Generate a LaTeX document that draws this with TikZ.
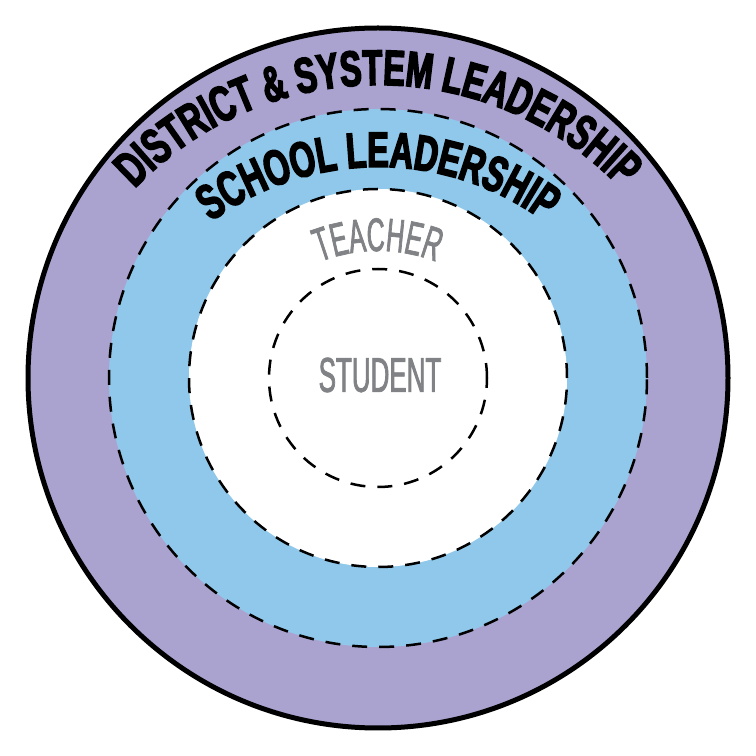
\documentclass[tikz,border=0pt]{standalone}
\usepackage{fontspec}
\usetikzlibrary{decorations.text}

\definecolor{districtpurple}{RGB}{170,163,208}
\definecolor{schoolblue}{RGB}{143,200,234}
\definecolor{labelgray}{RGB}{128,130,133}
\newfontfamily\ringbold{Liberation Sans Bold}[FakeStretch=0.65, FakeBold=3]
\newfontfamily\ringlight{Liberation Sans}[FakeStretch=0.53, FakeBold=1.5]
\newcommand\leadfont{\ringbold\fontsize{50}{50}\selectfont}
\newcommand\teachfont{\ringlight\fontsize{47}{47}\selectfont}

\begin{document}
\begin{tikzpicture}[x=1pt, y=1pt, ring/.style = {draw, circle, inner sep=0pt}, dashring/.style = {ring, line width=2.5pt, dash pattern=on 15pt off 12pt}]
\useasboundingbox (0,0) rectangle (756,756);
\coordinate (ctr) at (378,378);

% rings
\node[ring, fill=districtpurple, line width=5pt, minimum size=700pt] (district) at (ctr) {};
\node[dashring, fill=schoolblue, minimum size=538pt] (school) at (ctr) {};
\node[dashring, fill=white, minimum size=378pt] (teacher) at (ctr) {};
\node[dashring, minimum size=218pt] (student) at (ctr) {};
\node[text=labelgray, font=\ringlight\fontsize{49}{49}\selectfont, inner sep=0pt] (studentlabel) at (380,381) {STUDENT};

% curved labels
\path[decorate, decoration={text along path, text align=center, text={|\leadfont|DISTRICT {\&} SYSTEM LEADERSHIP}}] (378,334) ++(150:337) arc[start angle=150, end angle=30, radius=337];
\path[decorate, decoration={text along path, text align=center, text={|\leadfont|SCHOOL LEADERSHIP}}] (378,308) ++(150:281) arc[start angle=150, end angle=30, radius=281];
\path[decorate, decoration={text along path, text align=center, text color=labelgray, text={|\teachfont|TEACHER}}] (378,344) ++(150:161) arc[start angle=150, end angle=30, radius=161];
\end{tikzpicture}
\end{document}
